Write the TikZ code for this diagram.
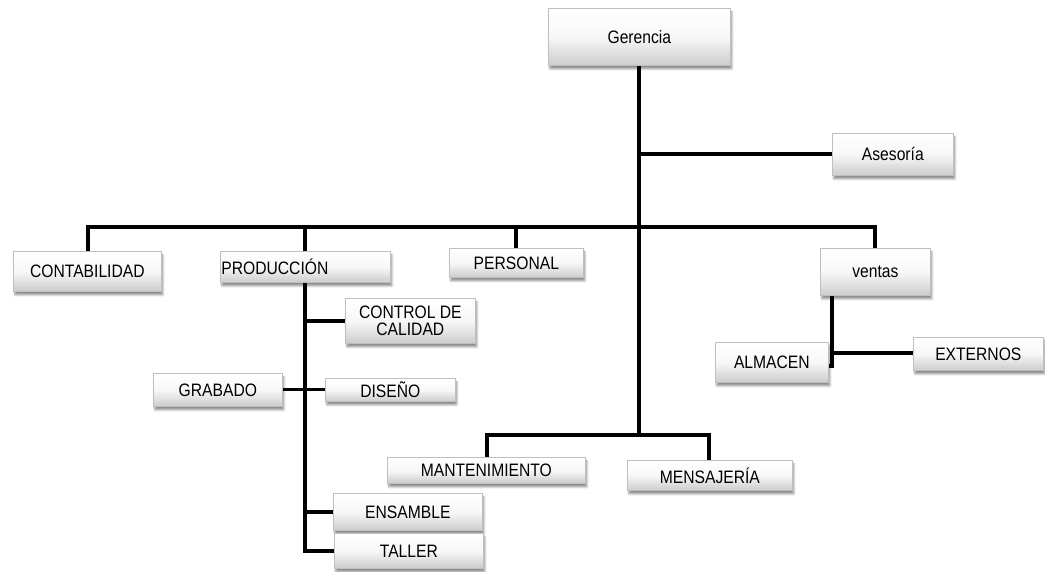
\documentclass[tikz,border=0pt]{standalone}
\usepackage{fontspec}
\setmainfont[FakeStretch=0.87]{Liberation Sans}
\usetikzlibrary{shadows.blur}
\tikzset{
  unit/.style={draw=gray!50, line width=0.7pt, top color=white, bottom color=gray!40,
    middle color=gray!6, anchor=north west, inner sep=0pt, align=center,
    font=\fontsize{18}{17.5}\selectfont,
    blur shadow={shadow xshift=1.5pt, shadow yshift=-3.5pt, shadow blur steps=6, shadow opacity=45}},
  conn/.style={line width=3.6pt, line cap=rect, line join=miter}
}
\newcommand{\unitbox}[6]{% name, x1, y1, x2, y2, text
  \pgfmathsetmacro{\bw}{#4-#2}\pgfmathsetmacro{\bh}{#5-#3}
  \node[unit, minimum width=\bw pt, minimum height=\bh pt] (#1) at (#2,#3) {#6};}
\begin{document}
\begin{tikzpicture}[x=1pt,y=-1pt]
\useasboundingbox (0,0) rectangle (1045,571);

% connector junctions
\coordinate (bus) at (639,227);
\coordinate (jm) at (639,435);
\coordinate (vj) at (832,353);
\coordinate (vb) at (832,366);

% connectors first, boxes on top
\path (639,65) coordinate (gs);
\draw[conn] (gs) -- (jm);
\draw[conn] (88,251) |- (bus) -| (875,248);
\draw[conn] (305,251) -- (305,227);
\draw[conn] (516,248) -- (516,227);
\draw[conn] (639,154) -- (832,154);
\draw[conn] (487,457) |- (jm) -| (709,460);
\draw[conn] (305,282) -- (305,551) -- (334,551);
\draw[conn] (305,321) -- (345,321);
\draw[conn] (282,389.5) -- (325,389.5);
\draw[conn] (305,512) -- (333,512);
\draw[conn] (832,295) -- (vb) -- (828,366);
\draw[conn] (vj) -- (913,353);

% organisational units
\unitbox{ger}{548}{8}{730}{65}{Gerencia}
\unitbox{ase}{832}{133}{953}{175}{Asesoría}
\unitbox{conta}{13}{251}{161}{291}{CONTABILIDAD}
\node[unit, minimum height=31pt, text width=168pt, align=left, inner xsep=1pt] (prod) at (220,251) {PRODUCCIÓN};
\unitbox{pers}{449}{248}{583}{277}{PERSONAL}
\unitbox{ventas}{820}{248}{930}{295}{ventas}
\unitbox{cal}{345}{298}{475}{343}{CONTROL DE\\CALIDAD}
\unitbox{grab}{153}{373}{282}{406}{GRABADO}
\unitbox{dis}{325}{378}{455}{401}{DISEÑO}
\unitbox{alm}{715}{342}{828}{382}{ALMACEN}
\unitbox{ext}{913}{337}{1043}{370}{EXTERNOS}
\unitbox{mant}{387}{457}{585}{483}{MANTENIMIENTO}
\unitbox{mens}{627}{460}{792}{490}{MENSAJERÍA}
\unitbox{ens}{333}{493}{482}{530}{ENSAMBLE}
\unitbox{taller}{334}{533}{483}{568}{TALLER}
\end{tikzpicture}
\end{document}
